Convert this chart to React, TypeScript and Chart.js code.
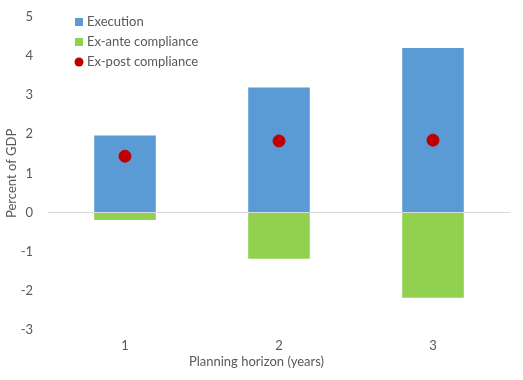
import React, { useEffect, useRef } from "react";
import { Chart, registerables } from "chart.js";

Chart.register(...registerables);

const categories = ["1", "2", "3"];
const execution = [1.97, 3.2, 4.21];
const exAnte = [-0.19, -1.18, -2.18];
const exPost = [1.44, 1.83, 1.85];
const yTicks = [-3, -2, -1, 0, 1, 2, 3, 4, 5];
const xTitle = "Planning horizon (years)";
const yTitle = "Percent of GDP";

const FONT = "Lato, 'Open Sans', sans-serif";
const TEXT = "#595959";

const legendItems = [
  { label: "Execution", color: "#5B9BD5", shape: "square" },
  { label: "Ex-ante compliance", color: "#92D050", shape: "square" },
  { label: "Ex-post compliance", color: "#C00000", shape: "circle" },
];

const insideLegend = {
  id: "insideLegend",
  afterDraw(chart: any) {
    const ctx = chart.ctx;
    const area = chart.chartArea;
    const x0 = area.left + 27;
    const y0 = area.top + 5;
    ctx.save();
    ctx.font = `13px ${FONT}`;
    ctx.textBaseline = "middle";
    ctx.textAlign = "left";
    legendItems.forEach((it, i) => {
      const y = y0 + i * 20;
      ctx.fillStyle = it.color;
      if (it.shape === "square") {
        ctx.fillRect(x0, y - 4, 8, 8);
      } else {
        ctx.beginPath();
        ctx.arc(x0 + 4, y, 4.5, 0, Math.PI * 2);
        ctx.fill();
      }
      ctx.fillStyle = TEXT;
      ctx.fillText(it.label, x0 + 12, y);
    });
    // x-axis title, centred on the whole figure like the reference
    const xs = chart.scales.x;
    ctx.textAlign = "center";
    ctx.fillText(xTitle, chart.width / 2 - 5, xs.bottom - 8);
    ctx.restore();
  },
};

export default function App() {
  const ref = useRef<HTMLCanvasElement>(null);
  useEffect(() => {
    if (!ref.current) return;
    const chart = new Chart(ref.current, {
      type: "bar",
      data: {
        labels: categories,
        datasets: [
          {
            type: "bar",
            label: "Execution",
            data: execution,
            backgroundColor: "#5B9BD5",
            grouped: false,
            barPercentage: 0.4,
            categoryPercentage: 1,
            order: 2,
          } as any,
          {
            type: "bar",
            label: "Ex-ante compliance",
            data: exAnte,
            backgroundColor: "#92D050",
            grouped: false,
            barPercentage: 0.4,
            categoryPercentage: 1,
            order: 2,
          } as any,
          {
            type: "line",
            label: "Ex-post compliance",
            data: exPost,
            showLine: false,
            pointRadius: 6,
            pointHoverRadius: 6,
            pointBackgroundColor: "#C00000",
            pointBorderColor: "#C00000",
            borderColor: "#C00000",
            backgroundColor: "#C00000",
            order: 1,
          } as any,
        ],
      },
      options: {
        animation: false,
        responsive: true,
        maintainAspectRatio: false,
        layout: { padding: { top: 17, right: 13, bottom: 10, left: 4 } },
        plugins: {
          legend: { display: false },
          tooltip: { enabled: false },
        },
        scales: {
          x: {
            offset: true,
            grid: { display: false, tickLength: 7 },
            border: { display: false },
            ticks: { color: TEXT, font: { family: FONT, size: 13 }, padding: 1 },
            title: { display: false, text: xTitle },
            afterFit: (axis: any) => {
              axis.height += 15.6;
            },
          },
          y: {
            min: -3,
            max: 5,
            afterBuildTicks: (axis: any) => {
              axis.ticks = yTicks.map((v) => ({ value: v }));
            },
            afterFit: (axis: any) => {
              axis.width = 44;
              axis.paddingTop = 0;
              axis.paddingBottom = 0;
            },
            grid: {
              color: (c: any) => (c.tick && c.tick.value === 0 ? "#D9D9D9" : "rgba(0,0,0,0)"),
              drawTicks: false,
            },
            border: { display: false },
            ticks: { color: TEXT, font: { family: FONT, size: 13 }, padding: 15 },
            title: {
              display: true,
              text: yTitle,
              color: TEXT,
              font: { family: FONT, size: 13 },
              padding: { top: 0, bottom: 0 },
            },
          },
        },
      },
      plugins: [insideLegend],
    });
    return () => chart.destroy();
  }, []);
  return (
    <div style={{ position: "fixed", left: 0, top: 0, width: 523, height: 380, background: "#fff" }}>
      <canvas ref={ref} />
    </div>
  );
}
